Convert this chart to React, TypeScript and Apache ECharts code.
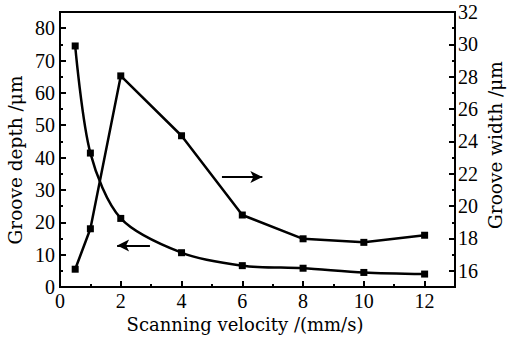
import React, { useEffect, useRef } from "react";
import * as echarts from "echarts";

const velocity = [0.5, 1, 2, 4, 6, 8, 10, 12];
const grooveDepth = [74.5, 41.4, 21.2, 10.6, 6.6, 5.8, 4.5, 4.0];
const grooveWidth = [16.1, 18.6, 28.05, 24.35, 19.45, 17.98, 17.76, 18.2];
const widthTicks = [16, 18, 20, 22, 24, 26, 28, 30, 32];
const widthArrow = [[5.33, 21.8], [6.66, 21.8]];
const depthArrow = [[2.96, 12.8], [1.88, 12.8]];

const TICK_FONT = "Liberation Serif";
const NAME_FONT = "DejaVu Serif";

export default function App() {
  const ref = useRef<HTMLDivElement>(null);
  useEffect(() => {
    document.body.style.margin = "0";
    const chart = echarts.init(ref.current!, null, { renderer: "svg" });
    const tickText = { color: "#000", fontFamily: TICK_FONT, fontSize: 20 };
    const nameText = { color: "#000", fontFamily: NAME_FONT, fontSize: 18 };
    const vName = (text: string, x: number, y: number) => ({
      type: "text",
      x,
      y,
      rotation: Math.PI / 2,
      style: {
        text,
        fill: "#000",
        font: `18.5px "${NAME_FONT}"`,
        align: "center",
        verticalAlign: "middle",
      },
    });
    chart.setOption({
      animation: false,
      backgroundColor: "#ffffff",
      grid: {
        left: 60,
        right: 52,
        top: 12,
        bottom: 52,
        outerBoundsMode: "none",
        containLabel: false,
        show: true,
        borderColor: "#000",
        borderWidth: 2,
      },
      graphic: [vName("Groove depth /μm", 15, 160), vName("Groove width /μm", 495, 145)],
      xAxis: {
        type: "value",
        min: 0,
        max: 13,
        interval: 2,
        name: "Scanning velocity /(mm/s)",
        nameLocation: "middle",
        nameGap: 26,
        nameTextStyle: { ...nameText, padding: [0, 25, 0, 0] },
        axisLine: { show: true, lineStyle: { color: "#000", width: 2 } },
        axisTick: { show: true, inside: true, length: 6, lineStyle: { color: "#000", width: 2 } },
        minorTick: { show: true, splitNumber: 2, length: 3, lineStyle: { color: "#000", width: 2 } },
        axisLabel: { ...tickText, margin: 4, showMaxLabel: false },
        splitLine: { show: false },
      },
      yAxis: [
        {
          type: "value",
          min: 0,
          max: 85,
          interval: 10,
          position: "left",
          axisLine: { show: true, lineStyle: { color: "#000", width: 2 } },
          axisTick: { show: true, inside: true, length: 6, lineStyle: { color: "#000", width: 2 } },
          minorTick: { show: true, splitNumber: 2, length: 3, lineStyle: { color: "#000", width: 2 } },
          axisLabel: { ...tickText, margin: 5, showMaxLabel: false },
          splitLine: { show: false },
        },
        {
          type: "value",
          min: 15,
          max: 32,
          position: "right",
          axisLine: { show: true, lineStyle: { color: "#000", width: 2 } },
          axisTick: { show: true, inside: true, length: 6, customValues: widthTicks, lineStyle: { color: "#000", width: 2 } },
          axisLabel: { ...tickText, margin: 3, customValues: widthTicks },
          splitLine: { show: false },
        },
        {
          type: "value",
          min: 15,
          max: 32,
          interval: 1,
          position: "right",
          axisLine: { show: false },
          axisTick: { show: true, inside: true, length: 3, lineStyle: { color: "#000", width: 2 } },
          axisLabel: { show: false },
          splitLine: { show: false },
        },
      ],
      series: [
        {
          type: "line",
          yAxisIndex: 0,
          data: velocity.map((v, i) => [v, grooveDepth[i]]),
          smooth: 0.3,
          symbol: "rect",
          symbolSize: 7,
          itemStyle: { color: "#000" },
          lineStyle: { color: "#000", width: 2.5 },
          markLine: {
            silent: true,
            symbol: ["none", "arrow"],
            symbolSize: [9, 12],
            label: { show: false },
            lineStyle: { color: "#000", width: 1.8, type: "solid" },
            data: [[{ coord: depthArrow[0] }, { coord: depthArrow[1] }]],
          },
        },
        {
          type: "line",
          yAxisIndex: 1,
          data: velocity.map((v, i) => [v, grooveWidth[i]]),
          symbol: "rect",
          symbolSize: 7,
          itemStyle: { color: "#000" },
          lineStyle: { color: "#000", width: 2.5 },
          markLine: {
            silent: true,
            symbol: ["none", "arrow"],
            symbolSize: [9, 12],
            label: { show: false },
            lineStyle: { color: "#000", width: 1.8, type: "solid" },
            data: [[{ coord: widthArrow[0] }, { coord: widthArrow[1] }]],
          },
        },
      ],
    });
    return () => chart.dispose();
  }, []);
  return <div ref={ref} style={{ width: 507, height: 339 }} />;
}
